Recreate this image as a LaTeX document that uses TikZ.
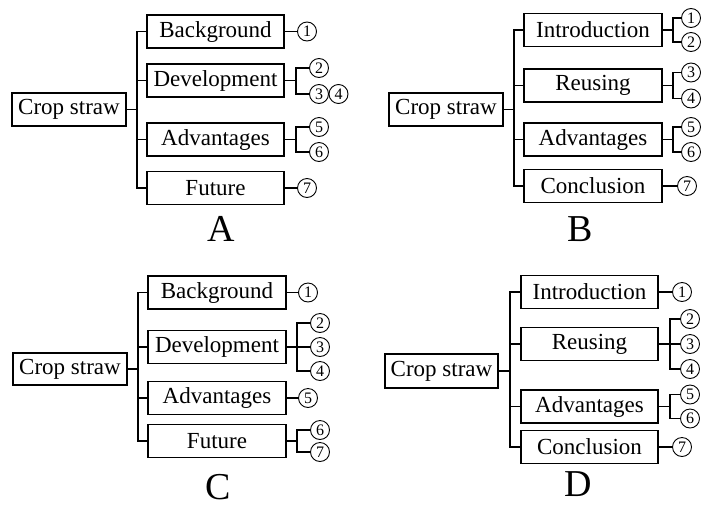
\documentclass[tikz,border=0pt]{standalone}
\usepackage{fontspec}
\setmainfont{Liberation Serif}
\begin{document}
\begin{tikzpicture}[x=1pt,y=-1pt,
  box/.style={draw, line width=1.2pt, minimum height=33pt, inner sep=0pt, font=\fontsize{23}{25}\selectfont},
  root/.style={box, minimum width=114pt},
  sub/.style={box, minimum width=137pt},
  num/.style={draw, circle, line width=0.9pt, minimum size=19pt, inner sep=0pt, font=\fontsize{16}{16}\selectfont},
  ln/.style={line width=1.2pt},
  lab/.style={font=\fontsize{38}{38}\selectfont, inner sep=0pt}]
\useasboundingbox (0,0) rectangle (711,509);

% ---------- Panel A ----------
\node[root] (cropA) at (69,109.5) {Crop straw};
\node[sub] (A1) at (215.5,31.5) {Background};
\node[sub] (A2) at (215.5,80.5) {Development};
\node[sub] (A3) at (215.5,139.5) {Advantages};
\node[sub] (A4) at (215.5,188) {Future};
\coordinate (tA) at (137,109.5);
\draw[ln] (cropA.east) -- (tA);
\draw[ln] (A1.west) -| (tA) |- (A4.west);
\draw[ln] (A2.west) -- (A2.west -| tA);
\draw[ln] (A3.west) -- (A3.west -| tA);
\node[num] (a1) at (307,31.5) {1};
\node[num] (a2) at (319,68) {2};
\node[num] (a3) at (319,94) {3};
\node[num] (a4) at (338.5,94) {4};
\node[num] (a5) at (319,127) {5};
\node[num] (a6) at (319,152) {6};
\node[num] (a7) at (307,188) {7};
\draw[ln] (A1.east) -- (a1.west);
\coordinate (jA2) at (296,80.5);
\draw[ln] (A2.east) -- (jA2);
\draw[ln] (a2.west) -| (jA2) |- (a3.west);
\coordinate (jA3) at (296,139.5);
\draw[ln] (A3.east) -- (jA3);
\draw[ln] (a5.west) -| (jA3) |- (a6.west);
\draw[ln] (A4.east) -- (a7.west);
\node[lab] (LA) at (221,229) {A};

% ---------- Panel B ----------
\node[root] (cropB) at (446,109.5) {Crop straw};
\node[sub, minimum width=138pt] (B1) at (593,30) {Introduction};
\node[sub, minimum width=138pt] (B2) at (593,85.5) {Reusing};
\node[sub, minimum width=138pt] (B3) at (593,139.5) {Advantages};
\node[sub, minimum width=138pt] (B4) at (593,186) {Conclusion};
\coordinate (tB) at (514,109.5);
\draw[ln] (cropB.east) -- (tB);
\draw[ln] (B1.west) -| (tB) |- (B4.west);
\draw[ln] (B2.west) -- (B2.west -| tB);
\draw[ln] (B3.west) -- (B3.west -| tB);
\node[num] (b1) at (691,18) {1};
\node[num] (b2) at (691,42) {2};
\node[num] (b3) at (691,72.5) {3};
\node[num] (b4) at (691,98.5) {4};
\node[num] (b5) at (691,127) {5};
\node[num] (b6) at (691,152) {6};
\node[num] (b7) at (687,186) {7};
\coordinate (jB1) at (673,30);
\draw[ln] (B1.east) -- (jB1);
\draw[ln] (b1.west) -| (jB1) |- (b2.west);
\coordinate (jB2) at (673,85.5);
\draw[ln] (B2.east) -- (jB2);
\draw[ln] (b3.west) -| (jB2) |- (b4.west);
\coordinate (jB3) at (673,139.5);
\draw[ln] (B3.east) -- (jB3);
\draw[ln] (b5.west) -| (jB3) |- (b6.west);
\draw[ln] (B4.east) -- (b7.west);
\node[lab] (LB) at (580,229) {B};

% ---------- Panel C ----------
\node[root, minimum height=32pt] (cropC) at (70,369) {Crop straw};
\node[sub, minimum width=138pt] (C1) at (217,292.5) {Background};
\node[sub, minimum width=138pt] (C2) at (217,347) {Development};
\node[sub, minimum width=138pt] (C3) at (217,398) {Advantages};
\node[sub, minimum width=138pt] (C4) at (217,441) {Future};
\coordinate (tC) at (138,369);
\draw[ln] (cropC.east) -- (tC);
\draw[ln] (C1.west) -| (tC) |- (C4.west);
\draw[ln] (C2.west) -- (C2.west -| tC);
\draw[ln] (C3.west) -- (C3.west -| tC);
\node[num] (c1) at (308,292.5) {1};
\node[num] (c2) at (320,323) {2};
\node[num] (c3) at (320,347) {3};
\node[num] (c4) at (320,371) {4};
\node[num] (c5) at (308,398) {5};
\node[num] (c6) at (320,430) {6};
\node[num] (c7) at (320,452) {7};
\draw[ln] (C1.east) -- (c1.west);
\coordinate (jC2) at (297,347);
\draw[ln] (C2.east) -- (jC2);
\draw[ln] (c2.west) -| (jC2) |- (c4.west);
\draw[ln] (jC2) -- (c3.west);
\draw[ln] (C3.east) -- (c5.west);
\coordinate (jC4) at (297,441);
\draw[ln] (C4.east) -- (jC4);
\draw[ln] (c6.west) -| (jC4) |- (c7.west);
\node[lab] (LC) at (218,487) {C};

% ---------- Panel D ----------
\node[root, minimum width=113pt, minimum height=34pt] (cropD) at (441.5,371) {Crop straw};
\node[sub] (D1) at (589.5,292) {Introduction};
\node[sub] (D2) at (589.5,344) {Reusing};
\node[sub] (D3) at (589.5,406.5) {Advantages};
\node[sub] (D4) at (589.5,447) {Conclusion};
\coordinate (tD) at (510,371);
\draw[ln] (cropD.east) -- (tD);
\draw[ln] (D1.west) -| (tD) |- (D4.west);
\draw[ln] (D2.west) -- (D2.west -| tD);
\draw[ln] (D3.west) -- (D3.west -| tD);
\node[num] (d1) at (682,292) {1};
\node[num] (d2) at (690,319) {2};
\node[num] (d3) at (690,344) {3};
\node[num] (d4) at (690,369) {4};
\node[num] (d5) at (690,394.5) {5};
\node[num] (d6) at (690,418.5) {6};
\node[num] (d7) at (682,447) {7};
\draw[ln] (D1.east) -- (d1.west);
\coordinate (jD2) at (670,344);
\draw[ln] (D2.east) -- (jD2);
\draw[ln] (d2.west) -| (jD2) |- (d4.west);
\draw[ln] (jD2) -- (d3.west);
\coordinate (jD3) at (670,406.5);
\draw[ln] (D3.east) -- (jD3);
\draw[ln] (d5.west) -| (jD3) |- (d6.west);
\draw[ln] (D4.east) -- (d7.west);
\node[lab] (LD) at (578,484) {D};
\end{tikzpicture}
\end{document}
